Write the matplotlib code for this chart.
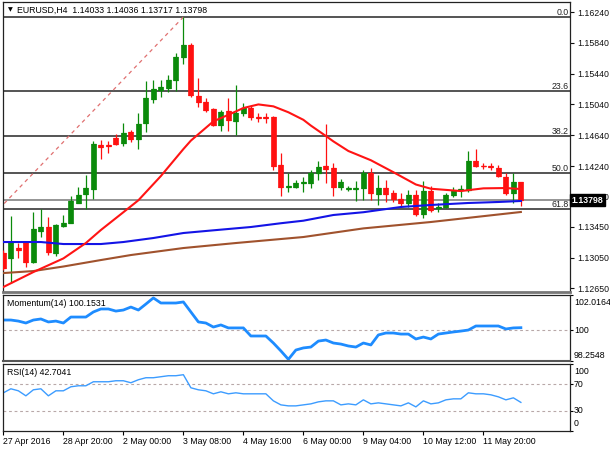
import matplotlib
matplotlib.use("Agg")
import matplotlib.pyplot as plt
import numpy as np

plt.rcParams['font.family'] = ['Liberation Sans', 'DejaVu Sans']

# ---------------- data ----------------
opens = [1.13110, 1.13045, 1.13175, 1.13240, 1.12993, 1.13396, 1.13448, 1.13110, 1.13461, 1.13500,
         1.13760, 1.13876, 1.13941, 1.14513, 1.14513, 1.14604, 1.14539, 1.14682, 1.14591, 1.14798,
         1.15110, 1.15227, 1.15253, 1.15357, 1.15656, 1.15811, 1.15149, 1.15071, 1.14980, 1.14773,
         1.14954, 1.14824, 1.14928, 1.14993, 1.14883, 1.14883, 1.14876, 1.14253, 1.13967, 1.13967,
         1.14019, 1.14019, 1.14149, 1.14240, 1.14214, 1.13967, 1.13948, 1.13948, 1.13954, 1.14149,
         1.13876, 1.13954, 1.13889, 1.13811, 1.13760, 1.13863, 1.13617, 1.13915, 1.13695, 1.13708,
         1.13863, 1.13928, 1.13928, 1.14305, 1.14246, 1.14234, 1.14214, 1.14097, 1.13889, 1.14033]
highs = [1.13149, 1.13591, 1.13240, 1.13266, 1.13643, 1.13682, 1.13578, 1.13487, 1.13604, 1.13850,
         1.13967, 1.14123, 1.14565, 1.14578, 1.14565, 1.14656, 1.14798, 1.14708, 1.14928, 1.15344,
         1.15357, 1.15357, 1.15422, 1.15708, 1.16175, 1.15837, 1.15383, 1.15123, 1.14993, 1.14967,
         1.15123, 1.15292, 1.15058, 1.15019, 1.14928, 1.14928, 1.14889, 1.14409, 1.14149, 1.14058,
         1.14097, 1.14188, 1.14305, 1.14786, 1.14279, 1.14071, 1.13980, 1.14045, 1.14188, 1.14214,
         1.14123, 1.14058, 1.13928, 1.13889, 1.13928, 1.13928, 1.14045, 1.13980, 1.13760, 1.13889,
         1.13967, 1.13993, 1.14435, 1.14461, 1.14279, 1.14279, 1.14253, 1.14149, 1.14149, 1.14036]
lows = [1.12889, 1.12721, 1.13045, 1.12928, 1.12980, 1.13318, 1.13084, 1.13071, 1.13448, 1.13500,
        1.13760, 1.13682, 1.13811, 1.14331, 1.14409, 1.14513, 1.14500, 1.14552, 1.14461, 1.14682,
        1.15058, 1.15136, 1.15201, 1.15214, 1.15565, 1.15136, 1.15006, 1.14941, 1.14760, 1.14695,
        1.14695, 1.14643, 1.14889, 1.14837, 1.14811, 1.14798, 1.14188, 1.13850, 1.13902, 1.13954,
        1.13902, 1.13954, 1.14058, 1.14019, 1.13850, 1.13928, 1.13915, 1.13786, 1.13798, 1.13798,
        1.13734, 1.13773, 1.13773, 1.13721, 1.13708, 1.13591, 1.13565, 1.13643, 1.13643, 1.13695,
        1.13837, 1.13837, 1.13902, 1.14227, 1.14201, 1.14188, 1.14097, 1.13863, 1.13760, 1.13717]
closes = [1.12915, 1.13240, 1.13149, 1.12993, 1.13422, 1.13448, 1.13123, 1.13474, 1.13500, 1.13786,
          1.13863, 1.13954, 1.14526, 1.14493, 1.14500, 1.14526, 1.14669, 1.14591, 1.14786, 1.15123,
          1.15240, 1.15266, 1.15357, 1.15656, 1.15811, 1.15162, 1.15071, 1.14967, 1.14773, 1.14941,
          1.14837, 1.14928, 1.14993, 1.14876, 1.14870, 1.14870, 1.14240, 1.13967, 1.13980, 1.14019,
          1.14032, 1.14149, 1.14227, 1.14207, 1.13967, 1.14032, 1.13954, 1.13954, 1.14149, 1.13889,
          1.13954, 1.13876, 1.13811, 1.13760, 1.13863, 1.13617, 1.13915, 1.13669, 1.13708, 1.13863,
          1.13915, 1.13941, 1.14305, 1.14240, 1.14234, 1.14221, 1.14110, 1.13889, 1.14032, 1.13798]

ma_red_bars = [0, 4, 8, 11, 13, 16, 18, 21, 24, 25, 28, 30, 32, 34, 36, 38, 40, 41, 43, 44,
               46, 49, 52, 55, 57, 61, 64, 67, 69]
ma_red_vals = [1.12669, 1.12863, 1.13040, 1.13240, 1.13409, 1.13640, 1.13795, 1.14110, 1.14460,
               1.14570, 1.14820, 1.14905, 1.14993, 1.15040, 1.15015, 1.14938, 1.14840, 1.14765,
               1.14630, 1.14560, 1.14435, 1.14315, 1.14160, 1.14000, 1.13945, 1.13915, 1.13950,
               1.13954, 1.13941]
ma_blue_bars = [0, 5, 8, 13, 16, 20, 24, 28, 33, 37, 40, 44, 48, 53, 57, 62, 66, 69]
ma_blue_vals = [1.13253, 1.13253, 1.13227, 1.13227, 1.13253, 1.13305, 1.13370, 1.13405, 1.13448,
                1.13497, 1.13530, 1.13604, 1.13640, 1.13708, 1.13734, 1.13760, 1.13773, 1.13786]
ma_brown_bars = [0, 4, 8, 13, 17, 24, 31, 40, 48, 57, 63, 69]
ma_brown_vals = [1.12850, 1.12876, 1.12935, 1.13019, 1.13084, 1.13175, 1.13240, 1.13318, 1.13430,
                 1.13513, 1.13578, 1.13643]

fib_levels = [1.16175, 1.15214, 1.14630, 1.14149, 1.13682]
fib_labels = ["0.0", "23.6", "38.2", "50.0", "61.8"]
fib_line_bars = [-16, 24]
fib_line_prices = [1.12120, 1.16175]
bid_price = 1.13798

price_ticks = [1.16240, 1.15840, 1.15440, 1.15040, 1.14640, 1.14240, 1.13840, 1.13450, 1.13050, 1.12650]
price_tick_labels = ["1.16240", "1.15840", "1.15440", "1.15040", "1.14640", "1.14240", "1.13840",
                     "1.13450", "1.13050", "1.12650"]

momentum = [100.59, 100.59, 100.53, 100.42, 100.59, 100.65, 100.48, 100.53, 100.42, 100.76,
            100.76, 100.76, 101.05, 101.22, 101.22, 101.10, 101.16, 101.33, 101.16, 101.50,
            101.85, 101.56, 101.56, 101.56, 101.62, 101.05, 100.48, 100.42, 100.19, 100.31,
            100.14, 100.14, 100.14, 99.68, 99.68, 99.68, 99.28, 98.83, 98.35, 98.88,
            99.00, 99.05, 99.39, 99.45, 99.28, 99.22, 99.11, 99.05, 99.28, 99.17,
            99.74, 99.85, 99.85, 99.79, 99.79, 99.51, 99.62, 99.51, 99.79, 99.85,
            99.91, 99.96, 100.02, 100.25, 100.25, 100.25, 100.25, 100.08, 100.14, 100.1531]
rsi = [57.0, 63.0, 60.0, 52.5, 61.5, 63.0, 52.5, 60.0, 60.0, 66.0,
       67.5, 67.5, 73.5, 73.5, 73.5, 75.0, 75.0, 72.0, 76.5, 79.5,
       79.5, 81.0, 82.5, 82.5, 84.0, 64.5, 61.5, 60.0, 55.5, 58.5,
       55.5, 57.0, 55.5, 55.5, 55.5, 55.5, 45.0, 39.0, 37.5, 37.5,
       39.0, 40.5, 43.5, 45.0, 45.0, 39.0, 40.5, 39.0, 46.5, 40.5,
       42.0, 40.5, 39.0, 37.5, 42.0, 36.0, 45.0, 40.5, 42.0, 46.5,
       48.0, 48.0, 57.0, 55.5, 55.5, 54.0, 51.0, 46.5, 49.5, 42.7041]

mom_max, mom_min = 102.0164, 98.2548
mom_labels = ["102.0164", "100", "98.2548"]
rsi_levels = [70, 30]
rsi_labels = ["100", "70", "30", "0"]

time_tick_bars = [0, 8, 16, 24, 32, 40, 48, 56, 64]
time_tick_labels = ["27 Apr 2016", "28 Apr 20:00", "2 May 00:00", "3 May 08:00", "4 May 16:00",
                    "6 May 00:00", "9 May 04:00", "10 May 12:00", "11 May 20:00"]

title = "EURUSD,H4  1.14033 1.14036 1.13717 1.13798"

# ---------------- layout ----------------
W, H = 610, 450
FS = 6.3
fig = plt.figure(figsize=(W / 100, H / 100), dpi=100)
fig.patch.set_facecolor("white")


def rect(l, t, r, b):
    return [l / W, 1 - b / H, (r - l) / W, (b - t) / H]


ax = fig.add_axes(rect(3, 2, 570, 292))
axm = fig.add_axes(rect(3, 295, 570, 361), sharex=ax)
axr = fig.add_axes(rect(3, 364, 570, 431), sharex=ax)

GREEN = "#0a8a0a"
RED = "#ff1010"

x = np.arange(len(opens))
o = np.array(opens); c = np.array(closes); h = np.array(highs); l = np.array(lows)
up = c >= o
cols = np.where(up, GREEN, RED)

# fib lines + bid line
for lev in fib_levels:
    ax.axhline(lev, color="#262626", lw=1.1, zorder=1)
ax.axhline(bid_price, color="#8c8c8c", lw=1.3, zorder=1)
ax.plot(fib_line_bars, fib_line_prices, color="#e07070", lw=0.9, ls=(0, (3, 3)), zorder=1)

# candles
ax.vlines(x, l, h, colors=cols, lw=0.9, zorder=3)
ax.bar(x, np.abs(c - o), bottom=np.minimum(o, c), width=0.68, color=cols, edgecolor=cols,
       lw=0.5, zorder=4)
ax.hlines(o, x - 0.34, x + 0.34, colors=cols, lw=0.9, zorder=4)
ax.hlines(c, x - 0.34, x + 0.34, colors=cols, lw=0.9, zorder=4)

# moving averages
ax.plot(ma_brown_bars, ma_brown_vals, color="#a0522d", lw=1.5, zorder=5)
ax.plot(ma_blue_bars, ma_blue_vals, color="#1414e6", lw=1.5, zorder=5)
ax.plot(ma_red_bars, ma_red_vals, color="#ff1414", lw=1.5, zorder=5)

ax.set_xlim(-0.05, 75.55)
ax.set_ylim(1.12604, 1.16370)

for lev, lab in zip(fib_levels, fib_labels):
    ax.text(0.997, lev, lab, transform=ax.get_yaxis_transform(), ha="right", va="bottom",
            fontsize=FS, color="#222222")

ax.yaxis.tick_right()
ax.set_yticks(price_ticks)
ax.set_yticklabels(price_tick_labels)
ax.tick_params(axis="y", length=3, width=0.8, pad=2, labelsize=FS, colors="#111111")
ax.tick_params(axis="x", bottom=False, labelbottom=False)

ax.text(1.003, bid_price, "1.13798", transform=ax.get_yaxis_transform(), ha="left", va="center",
        fontsize=FS, color="white", fontweight="bold",
        bbox=dict(boxstyle="square,pad=0.22", fc="black", ec="black"), zorder=10)

ax.text(0.009, 0.972, "\u25BC", transform=ax.transAxes, fontsize=4.5, ha="left", va="center",
        family="DejaVu Sans")
ax.text(0.025, 0.972, title, transform=ax.transAxes, fontsize=FS, ha="left", va="center")

# momentum
axm.axhline(100, color="#b8a8a8", lw=0.8, ls=(0, (2.5, 2.5)))
axm.plot(x, momentum, color="#1e8cff", lw=2.0)
axm.set_ylim(mom_min, mom_max)
axm.set_yticks([mom_max, 100, mom_min])
axm.yaxis.tick_right()
axm.tick_params(axis="y", length=2, width=0.8, labelright=False)
axm.tick_params(axis="x", bottom=False, labelbottom=False)
tr = axm.get_yaxis_transform()
axm.text(1.007, 0.89, mom_labels[0], transform=axm.transAxes, ha="left", va="center", fontsize=FS)
axm.text(1.007, 100, mom_labels[1], transform=tr, ha="left", va="center", fontsize=FS)
axm.text(1.007, 0.08, mom_labels[2], transform=axm.transAxes, ha="left", va="center", fontsize=FS)
axm.text(0.007, 0.87, "Momentum(14) 100.1531", transform=axm.transAxes, ha="left", va="center",
         fontsize=FS)

# RSI
for lev in rsi_levels:
    axr.axhline(lev, color="#b8a8a8", lw=0.8, ls=(0, (2.5, 2.5)))
axr.plot(x, rsi, color="#3c9cff", lw=1.0)
axr.set_ylim(0, 100)
axr.set_yticks([100, 70, 30, 0])
axr.yaxis.tick_right()
axr.tick_params(axis="y", length=2, width=0.8, labelright=False)
tr = axr.get_yaxis_transform()
axr.text(1.007, 0.895, rsi_labels[0], transform=axr.transAxes, ha="left", va="center", fontsize=FS)
axr.text(1.007, 70, rsi_labels[1], transform=tr, ha="left", va="center", fontsize=FS)
axr.text(1.007, 30, rsi_labels[2], transform=tr, ha="left", va="center", fontsize=FS)
axr.text(1.007, 0.105, rsi_labels[3], transform=axr.transAxes, ha="left", va="center", fontsize=FS)
axr.text(0.007, 0.87, "RSI(14) 42.7041", transform=axr.transAxes, ha="left", va="center",
         fontsize=FS)

axr.set_xticks(time_tick_bars)
axr.set_xticklabels(time_tick_labels)
axr.tick_params(axis="x", length=3, width=0.8, pad=1.0, labelsize=FS, direction="out")
for t in axr.get_xticklabels():
    t.set_horizontalalignment("left")

for a in (ax, axm, axr):
    for s in a.spines.values():
        s.set_color("#222222")
        s.set_linewidth(0.9)
ax.spines["bottom"].set_color("#777777")
ax.spines["bottom"].set_linewidth(2.0)
axm.spines["bottom"].set_color("#555555")
axm.spines["bottom"].set_linewidth(1.5)

fig.savefig("out.png", dpi=100, facecolor="white")
